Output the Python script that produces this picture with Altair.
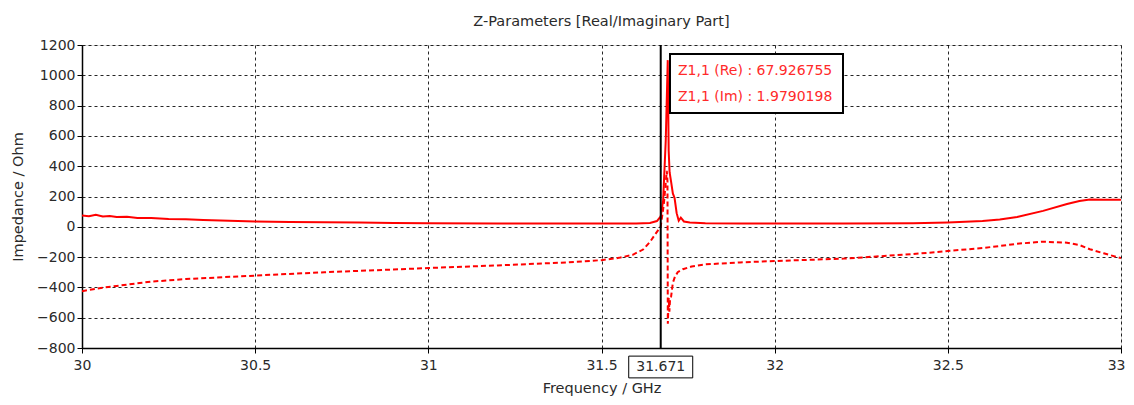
import altair as alt
import pandas as pd

# ---- data ----
freq_re = [30.00, 30.02, 30.04, 30.06, 30.08, 30.10, 30.13, 30.16, 30.20, 30.25, 30.30, 30.35,
           30.40, 30.50, 30.60, 30.70, 30.80, 30.90, 31.00, 31.20, 31.40, 31.50, 31.60, 31.64,
           31.66, 31.671, 31.678, 31.6855, 31.6913, 31.694, 31.6966, 31.7008, 31.706, 31.711,
           31.717, 31.723, 31.729, 31.738, 31.755, 31.80, 31.90, 32.00, 32.20, 32.40, 32.50,
           32.60, 32.65, 32.70, 32.775, 32.844, 32.88, 32.91, 32.95, 33.00]
re_vals = [75, 70, 80, 68, 72, 64, 66, 58, 58, 52, 50, 45,
           42, 35, 32, 30, 28, 25, 24, 22, 21, 21, 22, 25,
           38, 68, 175, 570, 1100, 500, 360, 300, 220, 190,
           90, 40, 60, 35, 28, 24, 22, 21, 21, 23, 28,
           38, 48, 65, 105, 150, 170, 180, 178, 178]

freq_im = [30.00, 30.05, 30.10, 30.20, 30.30, 30.50, 30.70, 30.90, 31.00, 31.20, 31.40,
           31.50, 31.55, 31.59, 31.62, 31.64, 31.655, 31.671, 31.68, 31.6885, 31.6905, 31.6915,
           31.694, 31.696, 31.698, 31.701, 31.706, 31.712, 31.72, 31.735, 31.76, 31.80, 31.90,
           32.00, 32.10, 32.20, 32.30, 32.40, 32.50, 32.60, 32.65, 32.70, 32.775, 32.844, 32.88,
           32.91, 32.95, 33.00]
im_vals = [-425, -405, -390, -362, -345, -322, -300, -282, -272, -255, -235,
           -220, -205, -185, -150, -100, -50, 2, 150, 370, 300, -640,
           -470, -560, -480, -460, -370, -330, -300, -280, -262, -248, -235,
           -226, -218, -210, -195, -180, -160, -140, -127, -112, -98, -105, -120,
           -148, -175, -207]

marker_freq = [31.671]
marker_label = ["31.671"]
readout_re = ["Z1,1 (Re) : 67.926755"]
readout_im = ["Z1,1 (Im) : 1.9790198"]

x_ticks = [30, 30.5, 31, 31.5, 32, 32.5, 33]
y_ticks = [-800, -600, -400, -200, 0, 200, 400, 600, 800, 1000, 1200]

FONT = "DejaVu Sans"
TXT = "#2a2a2a"

df_re = pd.DataFrame({"f": freq_re, "z": re_vals})
df_im = pd.DataFrame({"f": freq_im, "z": im_vals})
df_mk = pd.DataFrame({"f": marker_freq, "label": marker_label})
df_r1 = pd.DataFrame({"line": readout_re})
df_r2 = pd.DataFrame({"line": readout_im})

xscale = alt.Scale(domain=[30, 33], nice=False, zero=False)
yscale = alt.Scale(domain=[-800, 1200], nice=False, zero=False)

xaxis = alt.Axis(values=x_ticks, format=".1~f", title="Frequency / GHz",
                 grid=True, gridDash=[3, 3], gridColor="#000", gridOpacity=0.85,
                 tickSize=5, tickColor="#000", domainColor="#000", domainWidth=1.5,
                 labelFont=FONT, labelFontSize=14, labelColor=TXT, labelPadding=5,
                 labelAlign={"expr": "datum.value == 33 ? 'right' : 'center'"},
                 labelOffset={"expr": "datum.value == 33 ? 4 : 0"},
                 titleFont=FONT, titleFontSize=14.5, titleFontWeight="normal",
                 titleColor=TXT, titlePadding=9, labelFlush=False)
yaxis = alt.Axis(values=y_ticks, format="d", title="Impedance / Ohm",
                 grid=True, gridDash=[3, 3], gridColor="#000", gridOpacity=0.85,
                 tickSize=5, tickColor="#000", domainColor="#000", domainWidth=1.5,
                 labelFont=FONT, labelFontSize=14, labelColor=TXT, labelPadding=2,
                 titleFont=FONT, titleFontSize=14.5, titleFontWeight="normal",
                 titleColor=TXT, titlePadding=11, labelFlush=False)

re_line = alt.Chart(df_re).mark_line(color="#ff0000", strokeWidth=2, clip=True).encode(
    x=alt.X("f:Q", scale=xscale, axis=xaxis),
    y=alt.Y("z:Q", scale=yscale, axis=yaxis),
)
im_line = alt.Chart(df_im).mark_line(color="#ff0000", strokeWidth=2, strokeDash=[5, 3],
                                     clip=True).encode(
    x=alt.X("f:Q", scale=xscale, axis=xaxis),
    y=alt.Y("z:Q", scale=yscale, axis=yaxis),
)
marker = alt.Chart(df_mk).mark_rule(color="#000", strokeWidth=2).encode(
    x=alt.X("f:Q", scale=xscale, axis=xaxis),
)
marker_box = alt.Chart(df_mk).mark_point(
    shape="M-1,-0.34L1,-0.34L1,0.34L-1,0.34Z", size=4096, filled=True,
    fill="white", stroke="#000", strokeWidth=1, opacity=1
).encode(x=alt.X("f:Q", scale=xscale, axis=xaxis), y=alt.value(322))
marker_text = alt.Chart(df_mk).mark_text(font=FONT, fontSize=14, color=TXT,
                                         baseline="middle").encode(
    x=alt.X("f:Q", scale=xscale, axis=xaxis), y=alt.value(322), text="label:N")

ro_box = alt.Chart(df_mk).mark_rect(fill="white", stroke="#000", strokeWidth=2).encode(
    x=alt.value(588), x2=alt.value(761), y=alt.value(9), y2=alt.value(68))
ro_text1 = alt.Chart(df_r1).mark_text(font=FONT, fontSize=14, color="#ff2a2a",
                                      align="left", baseline="middle").encode(
    x=alt.value(596), y=alt.value(26), text="line:N")
ro_text2 = alt.Chart(df_r2).mark_text(font=FONT, fontSize=14, color="#ff2a2a",
                                      align="left", baseline="middle").encode(
    x=alt.value(596), y=alt.value(52), text="line:N")

chart = alt.layer(re_line, im_line, marker, marker_box, marker_text,
                  ro_box, ro_text1, ro_text2).properties(
    width=1039, height=303,
    autosize=alt.AutoSizeParams(type="none"),
    padding={"left": 74, "top": 37, "right": 5, "bottom": 49},
    title=alt.TitleParams("Z-Parameters [Real/Imaginary Part]", font=FONT, fontSize=14.5,
                          fontWeight="normal", color=TXT, offset=9),
).configure_view(stroke="#777", strokeWidth=1).configure(background="white")

chart.save("out.html", embed_options={"renderer": "svg", "actions": False})
